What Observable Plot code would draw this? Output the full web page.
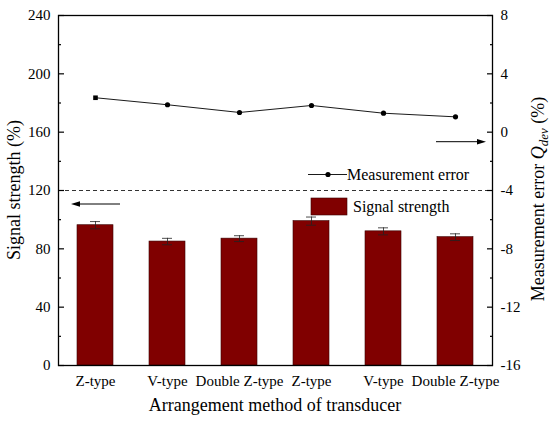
<!DOCTYPE html>
<html><head><meta charset="utf-8">
<script src="https://cdn.jsdelivr.net/npm/d3@7"></script>
<script src="https://cdn.jsdelivr.net/npm/@observablehq/plot@0.6"></script>
<style>
body{margin:0;background:#fff}
#chart svg{font-family:"Liberation Serif","Times New Roman",serif;display:block}
</style>
</head><body><div id="chart"></div><script>
const categories = ["Z-type","V-type","Double Z-type","Z-type","V-type","Double Z-type"];
const signalStrength = [96.2, 85, 87, 99, 92, 88];
const signalError = [2.5, 2.2, 2.0, 2.8, 2.4, 2.3];
const measurementError = [2.36, 1.88, 1.35, 1.83, 1.3, 1.05];
const leftTicks = [0, 40, 80, 120, 160, 200, 240];
const leftMinor = [20, 60, 100, 140, 180, 220];
const rightTicks = [-16, -12, -8, -4, 0, 4, 8];
const rightMinor = [-14, -10, -6, -2, 2, 6];
const refLine = 120;

// right axis (-16..8) mapped onto left axis (0..240)
const toLeft = e => (e + 16) * 10;
const fromLeft = v => Math.round(v / 10 - 16);

const data = categories.map((c, i) => ({
  i, c, s: signalStrength[i], e: signalError[i], m: measurementError[i]
}));

const barColor = "#800000";

const plot = Plot.plot({
  width: 550, height: 425,
  marginLeft: 58, marginRight: 58, marginTop: 15, marginBottom: 60,
  style: {fontFamily: "Liberation Serif, serif", fontSize: "15px", background: "white", color: "black", overflow: "visible"},
  x: {domain: d3.range(categories.length), paddingInner: 0.5, paddingOuter: 0.25, axis: null, label: null},
  y: {domain: [0, 240], axis: null, label: null},
  marks: [
    Plot.ruleY([refLine], {stroke: "#333", strokeWidth: 1, strokeDasharray: "4,3"}),
    Plot.barY(data, {x: "i", y: "s", fill: barColor, stroke: "#3a0000", strokeWidth: 0.6}),
    Plot.ruleX(data, {x: "i", y1: d => d.s - d.e, y2: d => d.s + d.e, stroke: "#222", strokeWidth: 0.8}),
    Plot.tickY(data, {x: "i", y: d => d.s + d.e, stroke: "#222", strokeWidth: 0.8, insetLeft: 13, insetRight: 13}),
    Plot.tickY(data, {x: "i", y: d => d.s - d.e, stroke: "#222", strokeWidth: 0.8, insetLeft: 13, insetRight: 13}),
    Plot.line(data, {x: "i", y: d => toLeft(d.m), stroke: "black", strokeWidth: 0.9}),
    Plot.dot(data, {x: "i", y: d => toLeft(d.m), r: 2.6, fill: "black", stroke: "none",
      symbol: d => d.i === 0 ? "square" : "circle"}),
    Plot.frame({stroke: "black", strokeWidth: 1.3}),
    // left axis
    Plot.axisY(leftTicks, {anchor: "left", label: null, tickSize: -6, tickPadding: 14, fontSize: 15, strokeWidth: 1.2}),
    Plot.axisY(leftMinor, {anchor: "left", label: null, tickSize: -3, tickFormat: () => "", strokeWidth: 1.2}),
    // right axis
    Plot.axisY(rightTicks.map(toLeft), {anchor: "right", label: null, tickSize: -6, tickPadding: 14, fontSize: 15, strokeWidth: 1.2,
      tickFormat: v => String(fromLeft(v))}),
    Plot.axisY(rightMinor.map(toLeft), {anchor: "right", label: null, tickSize: -3, tickFormat: () => "", strokeWidth: 1.2}),
    // x axis
    Plot.axisX(d3.range(categories.length), {anchor: "bottom", label: null, tickSize: 0, tickPadding: 10, fontSize: 15,
      tickFormat: i => categories[i]})
  ]
});

document.getElementById("chart").appendChild(plot);

const svg = d3.select(plot);
const ff = "Liberation Serif, serif";

// axis titles
svg.append("text")
  .attr("x", 275).attr("y", 411)
  .attr("text-anchor", "middle").attr("font-family", ff).attr("font-size", 18).attr("fill", "black")
  .text("Arrangement method of transducer");

svg.append("text")
  .attr("transform", "translate(20,190) rotate(-90)")
  .attr("text-anchor", "middle").attr("font-family", ff).attr("font-size", 18).attr("fill", "black")
  .text("Signal strength (%)");

const rt = svg.append("text")
  .attr("transform", "translate(544,199) rotate(-90)")
  .attr("text-anchor", "middle").attr("font-family", ff).attr("font-size", 18).attr("fill", "black");
rt.append("tspan").text("Measurement error ");
rt.append("tspan").attr("font-style", "italic").text("Q");
rt.append("tspan").attr("font-style", "italic").attr("font-size", 13).attr("dy", 4).text("dev");
rt.append("tspan").attr("dy", -4).text(" (%)");

// legend
const lg = svg.append("g").attr("font-family", ff).attr("font-size", 16).attr("fill", "black").attr("text-anchor", "start");
lg.append("line").attr("x1", 308).attr("x2", 347).attr("y1", 174.5).attr("y2", 174.5).attr("stroke", "black").attr("stroke-width", 0.9);
lg.append("circle").attr("cx", 328).attr("cy", 174.5).attr("r", 2.6).attr("fill", "black");
lg.append("text").attr("x", 347).attr("y", 180).attr("text-anchor", "start").text("Measurement error");
lg.append("rect").attr("x", 311).attr("y", 198).attr("width", 36).attr("height", 17)
  .attr("fill", barColor).attr("stroke", "#3a0000").attr("stroke-width", 0.6);
lg.append("text").attr("x", 353).attr("y", 212).attr("text-anchor", "start").text("Signal strength");

// arrows indicating axes
function arrow(x1, x2, y) {
  const dir = Math.sign(x2 - x1);
  svg.append("line").attr("x1", x1).attr("x2", x2 - dir * 7).attr("y1", y).attr("y2", y)
    .attr("stroke", "black").attr("stroke-width", 1);
  svg.append("path")
    .attr("d", `M${x2},${y}L${x2 - dir * 9},${y - 2.8}L${x2 - dir * 9},${y + 2.8}Z`)
    .attr("fill", "black");
}
arrow(120, 71, 204);
arrow(436, 486, 141.7);
</script></body></html>
